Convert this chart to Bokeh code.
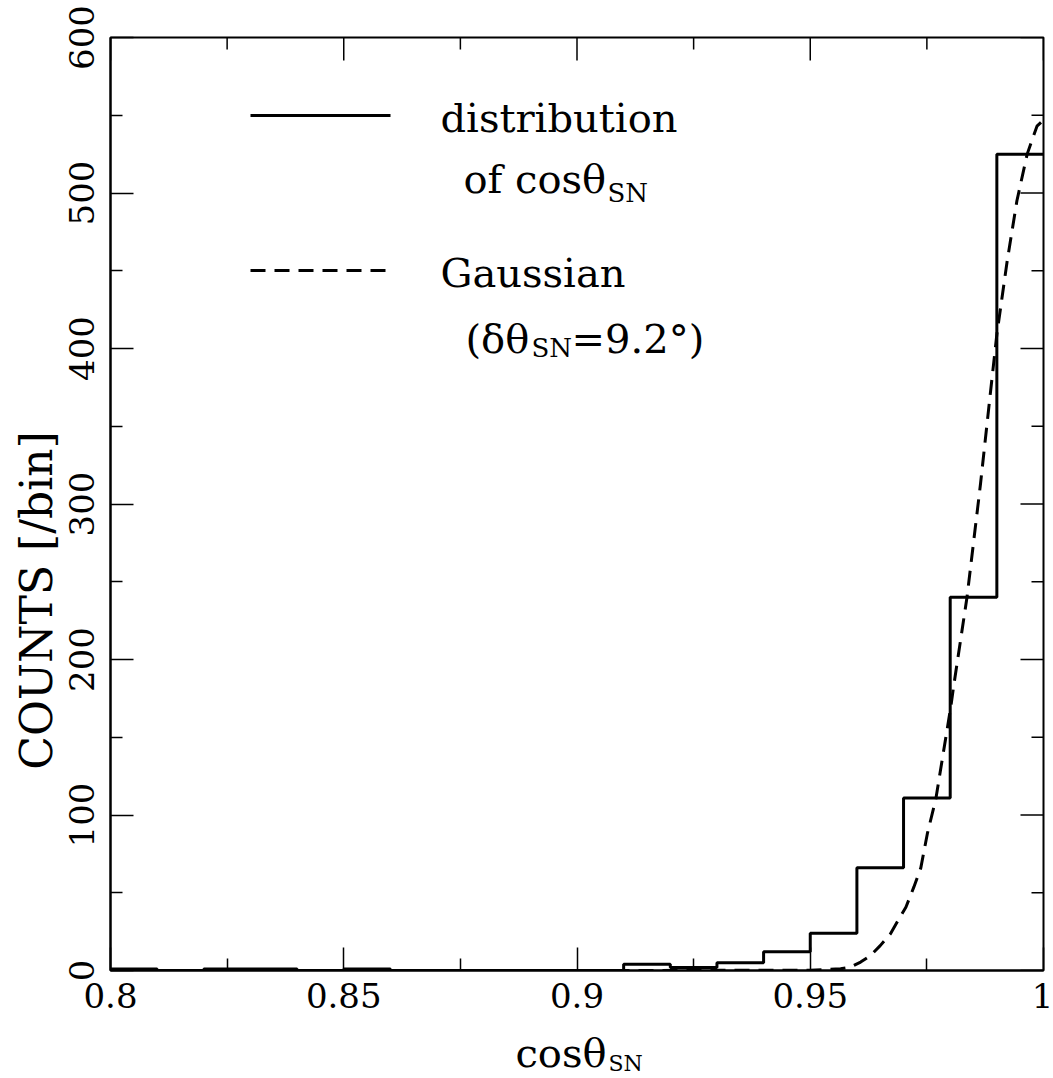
import math
from bokeh.plotting import figure
from bokeh.models import Range1d, FixedTicker, Label
from bokeh.embed import file_html
from bokeh.resources import INLINE

# ---------------- data ----------------
bin_edges = [0.80, 0.81, 0.82, 0.83, 0.84, 0.85, 0.86, 0.87, 0.88, 0.89, 0.90,
             0.91, 0.92, 0.93, 0.94, 0.95, 0.96, 0.97, 0.98, 0.99, 1.00]
counts = [1, 0, 1, 1, 0, 1, 0, 0, 0, 0, 0, 4, 2, 5, 12, 24, 66, 111, 240, 525]

gauss_x = [0.80, 0.85, 0.90, 0.95, 0.9565, 0.9586, 0.9608, 0.9629, 0.9650, 0.9672,
           0.9686, 0.9705, 0.9722, 0.9737, 0.9751, 0.9769, 0.9801, 0.9807, 0.9836,
           0.9865, 0.9886, 0.9900, 0.9922, 0.9943, 0.9965, 0.9986, 1.0]
gauss_y = [0, 0, 0, 0.2, 1.1, 2.1, 5.4, 9.6, 16, 23.6,
           31, 40.7, 53.6, 66, 88, 110, 169, 182, 240,
           313, 371, 409, 456, 495, 525, 543, 547]

x_ticks = [0.8, 0.85, 0.9, 0.95, 1.0]
x_tick_labels = ["0.8", "0.85", "0.9", "0.95", "1"]
x_minor = [0.825, 0.875, 0.925, 0.975]
y_ticks = [0, 100, 200, 300, 400, 500, 600]
y_tick_labels = ["0", "100", "200", "300", "400", "500", "600"]
y_minor = [50, 150, 250, 350, 450, 550]

x_label = "cosθ"
sub_label = "SN"
y_label = "COUNTS [/bin]"
legend_hist = ["distribution", "of cosθ"]
legend_gauss = ["Gaussian", "(δθ", "=9.2°)"]

# ---------------- layout ----------------
FONT = "DejaVu Serif"
X0, X1, Y0, Y1 = 0.8, 1.0, 0, 600
FW = FH = 933
LEFT, TOP = 110, 37  # frame position on page
BOTTOM = TOP + FH


def dx(px):
    return X0 + (px - LEFT) * (X1 - X0) / FW


def dy(py):
    return Y0 + (BOTTOM - py) * (Y1 - Y0) / FH


p = figure(frame_width=FW, frame_height=FH,
           x_range=Range1d(X0, X1), y_range=Range1d(Y0, Y1),
           output_backend="svg", toolbar_location=None,
           min_border_left=LEFT, min_border_right=10,
           min_border_top=TOP, min_border_bottom=1078 - BOTTOM,
           background_fill_color="white", border_fill_color="white")
p.title.visible = False
p.grid.visible = False
p.outline_line_color = "black"
p.outline_line_width = 2

p.xaxis.ticker = FixedTicker(ticks=x_ticks, minor_ticks=x_minor)
p.xaxis.major_label_overrides = dict(zip(x_ticks, x_tick_labels))
p.yaxis.ticker = FixedTicker(ticks=y_ticks, minor_ticks=y_minor)
p.yaxis.major_label_overrides = dict(zip(y_ticks, y_tick_labels))
p.yaxis.major_label_orientation = "parallel"

for ax in (p.xaxis, p.yaxis):
    ax.axis_line_color = "black"
    ax.axis_line_width = 2
    ax.major_tick_in = 23
    ax.major_tick_out = 0
    ax.minor_tick_in = 12
    ax.minor_tick_out = 0
    ax.major_tick_line_width = 1.5
    ax.minor_tick_line_width = 1.5
    ax.major_tick_line_color = "black"
    ax.minor_tick_line_color = "black"
    ax.major_label_text_font = FONT
    ax.major_label_text_font_size = "34px"
    ax.major_label_text_color = "black"
p.xaxis.major_label_standoff = 12
p.yaxis.major_label_standoff = 17

# mirrored ticks on top and right
mx = 23 * (X1 - X0) / FW
my = 23 * (Y1 - Y0) / FH
nx = 12 * (X1 - X0) / FW
ny = 12 * (Y1 - Y0) / FH
p.segment(x0=x_ticks, y0=[Y1] * len(x_ticks), x1=x_ticks, y1=[Y1 - my] * len(x_ticks),
          line_color="black", line_width=1.5)
p.segment(x0=x_minor, y0=[Y1] * len(x_minor), x1=x_minor, y1=[Y1 - ny] * len(x_minor),
          line_color="black", line_width=1.5)
p.segment(x0=[X1] * len(y_ticks), y0=y_ticks, x1=[X1 - mx] * len(y_ticks), y1=y_ticks,
          line_color="black", line_width=1.5)
p.segment(x0=[X1] * len(y_minor), y0=y_minor, x1=[X1 - nx] * len(y_minor), y1=y_minor,
          line_color="black", line_width=1.5)

# histogram (step outline)
p.step(x=bin_edges, y=counts + [counts[-1]], mode="after",
       line_color="black", line_width=3)
# gaussian (dashed)
p.line(x=gauss_x, y=gauss_y, line_color="black", line_width=3, line_dash="15 9")

# legend samples
p.line(x=[dx(250), dx(390)], y=[dy(115), dy(115)], line_color="black", line_width=3)
p.line(x=[dx(250), dx(390)], y=[dy(270), dy(270)], line_color="black", line_width=3,
       line_dash="15 9")


def lab(px, py, text, size, align="left", angle=0.0, baseline="alphabetic", place=None):
    lbl = Label(x=dx(px), y=dy(py), text=text, text_font=FONT,
                text_font_size=size, text_color="black",
                text_align=align, text_baseline=baseline, angle=angle)
    if place is None:
        p.add_layout(lbl)
    else:
        p.add_layout(lbl, place)


# legend text
lab(440, 117, legend_hist[0], "40px")
lab(463, 178, legend_hist[1], "40px")
lab(607, 192, sub_label, "26px")
lab(440, 272, legend_gauss[0], "40px")
lab(465, 338, legend_gauss[1], "40px")
lab(531, 347, sub_label, "26px")
lab(571, 338, legend_gauss[2], "40px")

# axis labels (in the side panels so they are not clipped to the frame)
lab(606, 1052, x_label, "40px", align="right", place="below")
lab(608, 1063, sub_label, "22px", place="below")
lab(36, 600, y_label, "44px", align="center", angle=math.pi / 2, baseline="middle",
    place="left")

open("out.html", "w").write(file_html(p, INLINE))
